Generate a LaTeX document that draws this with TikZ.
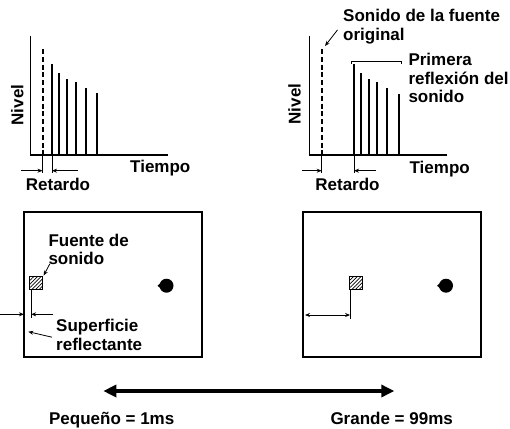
\documentclass[tikz,border=0pt]{standalone}
\usepackage{fontspec}
\setmainfont{Liberation Sans}
\usetikzlibrary{arrows.meta,calc,patterns.meta,positioning}

\tikzset{
  lbl/.style={font=\fontsize{17}{18.5}\selectfont\bfseries,inner sep=0pt},
  axisline/.style={line width=1.1pt},
  pulse/.style={line width=2pt},
  tickline/.style={line width=0.8pt},
  dimarrow/.style={line width=0.8pt,-{Stealth[length=5pt,width=4pt]}},
  room/.style={line width=1.7pt},
  source/.style={draw,line width=0.8pt,minimum size=13pt,inner sep=0pt,
    pattern={Lines[angle=45,distance=2.6pt,line width=0.7pt]}},
  listener/.style={circle,fill,minimum size=14pt,inner sep=0pt},
}

\begin{document}
\begin{tikzpicture}[x=1pt,y=-1pt]
  \useasboundingbox (0,0) rectangle (510,428);
  % small delay
  \draw[axisline] (30.5,36) -- (30.5,155) -- (168,155);
  \draw[pulse,dash pattern=on 5pt off 2.8pt] (42.5,49) -- (42.5,155);
  \foreach \x/\y in {52/64.3,59.3/73.3,67.3/79.3,75.7/82,86.3/88.3,97.3/93.3}{\draw[pulse] (\x,155) -- (\x,\y);}
  \draw[tickline] (42.5,155) -- (42.5,173) (52,155) -- (52,173);
  \draw[dimarrow] (21,170.7) -- (42.5,170.7);
  \draw[dimarrow] (78,170.7) -- (52,170.7);
  \node[lbl,rotate=90,anchor=base] (nivelA) at (23.3,105) {Nivel};
  \node[lbl,anchor=base] (tiempoA) at (160.3,172.7) {Tiempo};
  \node[lbl,anchor=base] (retardoA) at (58,190.7) {Retardo};
  % large delay
  \draw[axisline] (309.3,36) -- (309.3,155) -- (446.7,155);
  \draw[pulse,dash pattern=on 5pt off 2.8pt] (321.7,49) -- (321.7,155);
  \foreach \x/\y in {354/64.3,361/72.7,369/79.3,377/82,387.3/88.3,398.7/93.7}{\draw[pulse] (\x,155) -- (\x,\y);}
  \draw[tickline] (321.7,155) -- (321.7,173) (354,155) -- (354,173);
  \draw[dimarrow] (302.3,170.7) -- (321.7,170.7);
  \draw[dimarrow] (376,170.7) -- (354,170.7);
  \node[lbl,rotate=90,anchor=base] (nivelB) at (300.7,104) {Nivel};
  \node[lbl,anchor=base] (tiempoB) at (439.7,173.3) {Tiempo};
  \node[lbl,anchor=base] (retardoB) at (347.5,190) {Retardo};
  \node[lbl,align=left,anchor=north west] (origlbl) at (343,9) {Sonido de la fuente\\original};
  \coordinate (origtop) at (325,46);
  \draw[dimarrow] ($(origlbl.west)+(-5.5,3.5)$) -- (origtop);
  \draw[tickline] (351,64) -- (351,61) -- (401.7,61) -- (401.7,64);
  \node[lbl,align=left,anchor=north west] (reflbl) at (408.3,53) {Primera\\reflexión del\\sonido};
  % rooms
  \draw[room] (24,212.3) rectangle (202.3,356.7);
  \draw[room] (303.3,212.3) rectangle (481.3,356.7);
  \node[source] (srcA) at (36.3,283.3) {};
  \node[source] (srcB) at (356.3,283.3) {};
  \node[listener] (lisA) at (166.5,285.7) {};
  \node[listener] (lisB) at (446,285.7) {};
  \foreach \n in {lisA,lisB}{\fill ($(\n.center)+(-9,0)$) -- ++(5,-4.2) -- ++(0,8.4) -- cycle;}
  \draw[tickline] (srcA.south west) ++(1.7,0) coordinate (legA) -- ++(0,27.5);
  \draw[dimarrow] (0,314.3) -- (24,314.3);
  \draw[dimarrow] (53.3,314.3) -- (legA |- 0,314.3);
  \node[lbl,align=left,anchor=north west] (fuentelbl) at (48.3,233.5) {Fuente de\\sonido};
  \draw[dimarrow,shorten >=1pt] ($(fuentelbl.south west)+(1.5,-1)$) -- (srcA.north east);
  \node[lbl,align=left,anchor=north west] (surflbl) at (56,319) {Superficie\\reflectante};
  \coordinate (wallpt) at (28.3,331.7);
  \draw[dimarrow] ($(surflbl.west)+(-4,2.5)$) -- (wallpt);
  \draw[tickline] (srcB.south west) ++(0.7,0) coordinate (legB) -- ++(0,28.5);
  \draw[tickline,{Stealth[length=5pt,width=4pt]}-{Stealth[length=5pt,width=4pt]}] (305,315) -- (legB |- 0,315);
  % scale
  \coordinate (small) at (103.3,391);
  \coordinate (large) at (394.3,391);
  \draw[line width=3.3pt,{Triangle[length=13pt,width=12pt]}-{Triangle[length=13pt,width=12pt]}] (small) -- (large);
  \node[lbl,anchor=base] (peqlbl) at (111.7,424.3) {Pequeño = 1ms};
  \node[lbl,anchor=base] (grdlbl) at (391.7,424.3) {Grande = 99ms};
\end{tikzpicture}
\end{document}
